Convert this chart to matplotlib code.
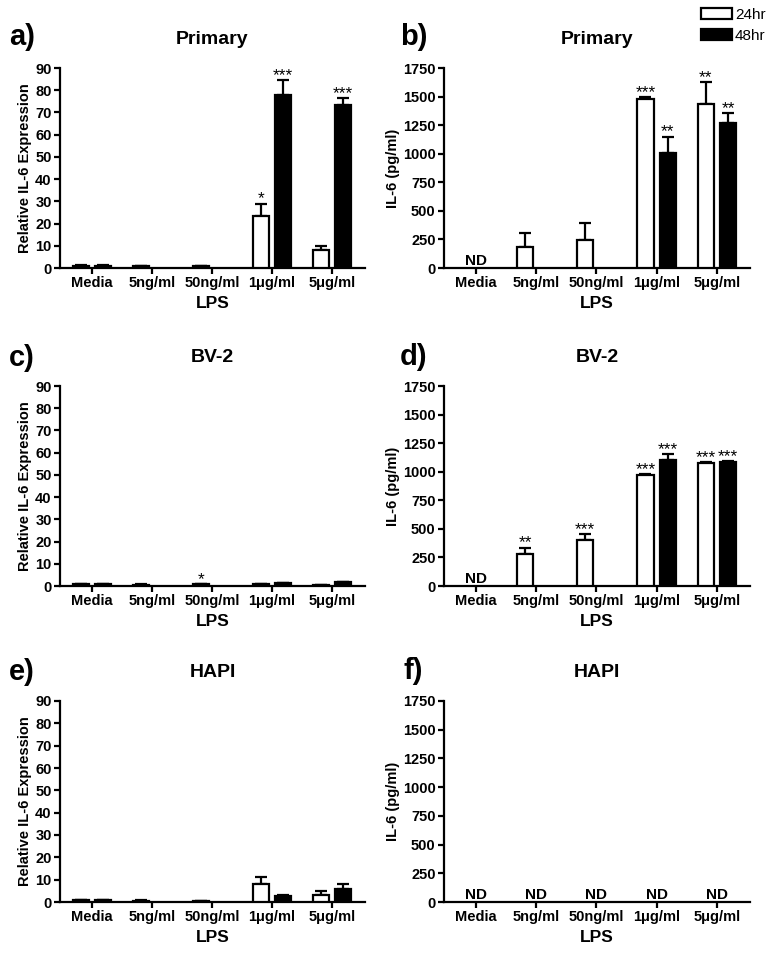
import numpy as np
import matplotlib
matplotlib.use("Agg")
import matplotlib.pyplot as plt
from matplotlib.patches import Patch

plt.rcParams['font.family'] = ['Liberation Sans', 'DejaVu Sans']

nan = np.nan

categories = ['Media', '5ng/ml', '50ng/ml', '1μg/ml', '5μg/ml']

# relative IL-6 expression (a, c, e)
a_24 = [1.0, 0.9, 0.8, 23.5, 8.0]
a_24_err = [0.2, 0.2, 0.2, 5.5, 2.0]
a_48 = [1.0, nan, nan, 78.0, 73.5]
a_48_err = [0.2, nan, nan, 6.5, 3.0]
a_24_sig = ['', '', '', '*', '']
a_48_sig = ['', '', '', '***', '***']

c_24 = [0.7, 0.6, 0.7, 1.0, 0.3]
c_24_err = [0.1, 0.1, 0.1, 0.1, 0.1]
c_48 = [0.8, nan, nan, 1.4, 1.8]
c_48_err = [0.1, nan, nan, 0.1, 0.1]
c_24_sig = ['', '', '*', '', '']
c_48_sig = ['', '', '', '', '']

e_24 = [0.7, 0.6, 0.5, 8.0, 3.3]
e_24_err = [0.1, 0.1, 0.1, 3.2, 1.8]
e_48 = [0.7, nan, nan, 2.9, 5.8]
e_48_err = [0.1, nan, nan, 0.4, 2.1]
e_24_sig = ['', '', '', '', '']
e_48_sig = ['', '', '', '', '']

# IL-6 protein pg/ml (b, d, f), nan = not detected / not shown
b_24 = [nan, 180, 243, 1478, 1438]
b_24_err = [nan, 122, 150, 18, 190]
b_48 = [nan, nan, nan, 1010, 1270]
b_48_err = [nan, nan, nan, 140, 84]
b_24_sig = ['', '', '', '***', '**']
b_48_sig = ['', '', '', '**', '**']
b_nd = [True, False, False, False, False]

d_24 = [nan, 280, 400, 972, 1078]
d_24_err = [nan, 56, 58, 4, 8]
d_48 = [nan, nan, nan, 1104, 1085]
d_48_err = [nan, nan, nan, 50, 6]
d_24_sig = ['', '**', '***', '***', '***']
d_48_sig = ['', '', '', '***', '***']
d_nd = [True, False, False, False, False]

f_24 = [nan, nan, nan, nan, nan]
f_24_err = [nan, nan, nan, nan, nan]
f_48 = [nan, nan, nan, nan, nan]
f_48_err = [nan, nan, nan, nan, nan]
f_24_sig = ['', '', '', '', '']
f_48_sig = ['', '', '', '', '']
f_nd = [True, True, True, True, True]

no_nd = [False] * 5

fig = plt.figure(figsize=(7.71, 9.56), dpi=100)

W, H = 771.0, 956.0


def make_axes(left, right, top, bottom):
    return fig.add_axes([left / W, 1 - bottom / H, (right - left) / W, (bottom - top) / H])


def draw_panel(ax, v24, e24, v48, e48, s24, s48, nd, ymax, step, ylabel, title):
    x = np.arange(len(categories))
    off = 0.185
    bw = 0.27
    ax.bar(x - off, v24, bw, color='white', edgecolor='black', linewidth=1.6, zorder=3)
    ax.bar(x + off, v48, bw, color='black', edgecolor='black', linewidth=1.6, zorder=3)
    # upper error bars only
    for xs, vals, errs in [(x - off, v24, e24), (x + off, v48, e48)]:
        vals = np.array(vals, dtype=float)
        errs = np.array(errs, dtype=float)
        ax.errorbar(xs, vals, yerr=[np.zeros_like(errs), errs], fmt='none',
                    ecolor='black', elinewidth=1.6, capsize=4, capthick=1.6, zorder=2)
    # significance stars
    for xs, vals, errs, sig in [(x - off, v24, e24, s24), (x + off, v48, e48, s48)]:
        for xi, v, e, s in zip(xs, vals, errs, sig):
            if s:
                top = v + (e if not np.isnan(e) else 0)
                ax.annotate(s, (xi, top), xytext=(0, 0), textcoords='offset points',
                            ha='center', va='baseline', fontsize=12.5)
    # not detected
    for xi, flag in zip(x, nd):
        if flag:
            ax.annotate('ND', (xi, 0), xytext=(0, 2.5), textcoords='offset points',
                        ha='center', va='baseline', fontsize=11, fontweight='bold')

    ax.set_xlim(-0.53, 4.55)
    ax.set_ylim(0, ymax)
    ax.set_yticks(np.arange(0, ymax + 1, step))
    ax.set_xticks(x)
    ax.set_xticklabels(categories)
    for sp in ['top', 'right']:
        ax.spines[sp].set_visible(False)
    for sp in ['left', 'bottom']:
        ax.spines[sp].set_linewidth(1.6)
    ax.tick_params(axis='both', direction='out', length=4, width=1.6, labelsize=10.5, pad=2)
    for lab in ax.get_xticklabels() + ax.get_yticklabels():
        lab.set_fontweight('bold')
    ax.set_xlabel('LPS', fontsize=12.5, fontweight='bold', labelpad=4)
    ax.set_ylabel(ylabel, fontsize=10.5, fontweight='bold', labelpad=2)
    ax.set_title(title, fontsize=14, fontweight='bold', pad=17)
    return ax


rows = [(68, 268), (386, 586), (701, 902)]

ax_a = make_axes(60, 365, *rows[0])
ax_b = make_axes(444, 750, *rows[0])
ax_c = make_axes(60, 365, *rows[1])
ax_d = make_axes(444, 750, *rows[1])
ax_e = make_axes(60, 365, *rows[2])
ax_f = make_axes(444, 750, *rows[2])

rel = 'Relative IL-6 Expression'
pg = 'IL-6 (pg/ml)'

draw_panel(ax_a, a_24, a_24_err, a_48, a_48_err, a_24_sig, a_48_sig, no_nd, 90, 10, rel, 'Primary')
draw_panel(ax_b, b_24, b_24_err, b_48, b_48_err, b_24_sig, b_48_sig, b_nd, 1750, 250, pg, 'Primary')
draw_panel(ax_c, c_24, c_24_err, c_48, c_48_err, c_24_sig, c_48_sig, no_nd, 90, 10, rel, 'BV-2')
draw_panel(ax_d, d_24, d_24_err, d_48, d_48_err, d_24_sig, d_48_sig, d_nd, 1750, 250, pg, 'BV-2')
draw_panel(ax_e, e_24, e_24_err, e_48, e_48_err, e_24_sig, e_48_sig, no_nd, 90, 10, rel, 'HAPI')
draw_panel(ax_f, f_24, f_24_err, f_48, f_48_err, f_24_sig, f_48_sig, f_nd, 1750, 250, pg, 'HAPI')

# panel letters
letters = [('a)', 9, 37), ('b)', 400, 37), ('c)', 9, 358), ('d)', 400, 357), ('e)', 9, 672), ('f)', 404, 671)]
for txt, px, py in letters:
    fig.text(px / W, 1 - py / H, txt, fontsize=21, fontweight='bold', ha='left', va='center')

# legend top right
handles = [Patch(facecolor='white', edgecolor='black', linewidth=1.6),
           Patch(facecolor='black', edgecolor='black', linewidth=1.6)]
fig.legend(handles, ['24hr', '48hr'], loc='upper right', bbox_to_anchor=(0.993, 0.992),
           frameon=False, fontsize=11, handlelength=2.0, handleheight=0.75,
           handletextpad=0.2, labelspacing=0.45, borderpad=0, borderaxespad=0)

fig.savefig('out.png', dpi=100)
